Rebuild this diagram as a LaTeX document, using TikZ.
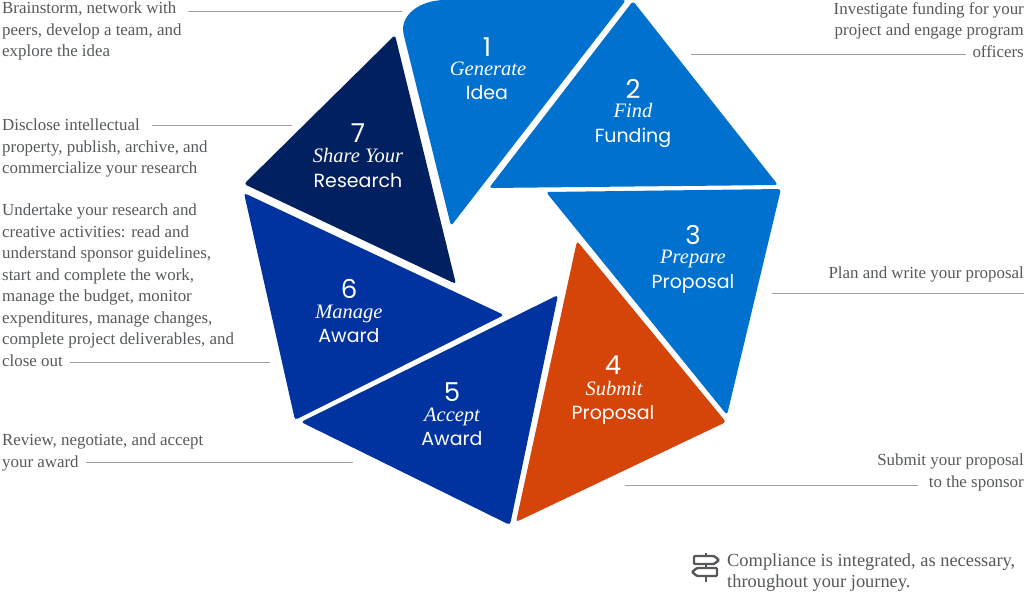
\documentclass[tikz,border=0pt]{standalone}
\usepackage{fontspec}
\setmainfont{Liberation Serif}
\setsansfont{Poppins}
\definecolor{stepblue}{HTML}{0071CE}
\definecolor{steporange}{HTML}{D54509}
\definecolor{stepnavy}{HTML}{0033A0}
\definecolor{stepdark}{HTML}{002060}
\definecolor{notegray}{HTML}{55595B}
\tikzset{
    petal/.style={rounded corners=3pt},
    stepnum/.style={white,inner sep=0pt,anchor=base,font=\sffamily\fontsize{26}{26}\selectfont},
    stepverb/.style={white,inner sep=0pt,anchor=base,font=\itshape\fontsize{20.5}{20.5}\selectfont},
    stepnoun/.style={white,inner sep=0pt,anchor=base,font=\sffamily\fontsize{19}{19}\selectfont},
    noteleft/.style={notegray,inner sep=0pt,anchor=north west,align=left,font=\fontsize{16.9}{21.5}\selectfont},
    noteright/.style={notegray,inner sep=0pt,anchor=north east,align=right,font=\fontsize{16.9}{21.5}\selectfont},
    leader/.style={draw=gray!75,line width=1pt},
    signpost/.style={notegray,line width=2.4pt,rounded corners=1pt},
}
\begin{document}
\begin{tikzpicture}[x=1pt,y=-1pt]
        \useasboundingbox (0,0) rectangle (1024,592);

        % Generate
        \fill [stepblue,petal] (451,226) -- (404,36) [sharp corners] .. controls (400,15) and (420,0) .. (445,0) [rounded corners=3pt] -- (626,0) -- cycle;
        \node[stepnum] (num1) at (487,56) {1};
        \node[stepverb] (verb1) at (488,75) {Generate};
        \node[stepnoun] (noun1) at (487,99) {Idea};

        % Find
        \fill [stepblue,petal] (633,1) -- (778,185) -- (489,188) -- cycle;
        \node[stepnum] (num2) at (633,98) {2};
        \node[stepverb] (verb2) at (633,117) {Find};
        \node[stepnoun] (noun2) at (633,142) {Funding};

        % Prepare
        \fill [stepblue,petal] (546,192) -- (781,189) -- (727,415) -- cycle;
        \node[stepnum] (num3) at (693,244) {3};
        \node[stepverb] (verb3) at (693,263) {Prepare};
        \node[stepnoun] (noun3) at (693,288) {Proposal};

        % Submit
        \fill [steporange,petal] (577,241) -- (726,422) -- (516,522) -- cycle;
        \node[stepnum] (num4) at (613,374) {4};
        \node[stepverb] (verb4) at (614,395) {Submit};
        \node[stepnoun] (noun4) at (613,419) {Proposal};

        % Accept
        \fill [stepnavy,petal] (558,295) -- (510,525) -- (301,422) -- cycle;
        \node[stepnum] (num5) at (452,401) {5};
        \node[stepverb] (verb5) at (452,421) {Accept};
        \node[stepnoun] (noun5) at (452,445) {Award};

        % Manage
        \fill [stepnavy,petal] (244,193) -- (504,315) -- (295,420) -- cycle;
        \node[stepnum] (num6) at (349,298) {6};
        \node[stepverb] (verb6) at (349,318) {Manage};
        \node[stepnoun] (noun6) at (349,342) {Award};

        % Share
        \fill [stepdark,petal] (395,35) -- (456,284) -- (244,184) -- cycle;
        \node[stepnum] (num7) at (358,142) {7};
        \node[stepverb] (verb7) at (358,162) {Share Your};
        \node[stepnoun] (noun7) at (358,187) {Research};

        % Left notes
        \node[noteleft] (noteidea) at (2,2) {Brainstorm, network with\\peers, develop a team, and\\explore the idea};
        \node[noteleft] (noteshare) at (2,119) {Disclose intellectual\\property, publish, archive, and\\commercialize your research};
        \node[noteleft] (notemanage) at (2,204) {Undertake your research and\\creative activities: read and\\understand sponsor guidelines,\\start and complete the work,\\manage the budget, monitor\\expenditures, manage changes,\\complete project deliverables, and\\close out};
        \node[noteleft] (noteaccept) at (2,434) {Review, negotiate, and accept\\your award};

        % Right notes
        \node[noteright] (notefund) at (1024,2) {Investigate funding for your\\project and engage program\\officers};
        \node[noteright] (noteprep) at (1024,267) {Plan and write your proposal};
        \node[noteright] (notesubmit) at (1024,454) {Submit your proposal\\to the sponsor};
        \node[noteleft,font=\fontsize{18.4}{21}\selectfont] (notecomply) at (727,554) {Compliance is integrated, as necessary,\\throughout your journey.};

        % Leader lines
        \coordinate (ideaA) at (188,11);
        \coordinate (ideaB) at (402,11);
        \coordinate (shareA) at (152,125);
        \coordinate (shareB) at (292,125);
        \coordinate (manageA) at (70,362);
        \coordinate (manageB) at (270,362);
        \coordinate (acceptA) at (86,462);
        \coordinate (acceptB) at (353,462);
        \coordinate (fundA) at (691,54);
        \coordinate (fundB) at (966,54);
        \coordinate (prepA) at (772,293);
        \coordinate (prepB) at (1024,293);
        \coordinate (submitA) at (625,485);
        \coordinate (submitB) at (918,485);
        \draw [leader] (ideaA) -- (ideaB);
        \draw [leader] (shareA) -- (shareB);
        \draw [leader] (manageA) -- (manageB);
        \draw [leader] (acceptA) -- (acceptB);
        \draw [leader] (fundA) -- (fundB);
        \draw [leader] (prepA) -- (prepB);
        \draw [leader] (submitA) -- (submitB);

        % Signpost
        \draw [signpost] (694,556) -- (714,556) -- (719,560) -- (714,564) -- (694,564) -- cycle;
        \draw [signpost] (697,568) -- (717,568) -- (717,576) -- (697,576) -- (692,572) -- cycle;
        \draw [signpost] (706,553) -- (706,556);
        \draw [signpost] (706,564) -- (706,568);
        \draw [signpost] (706,576) -- (706,582);
    \end{tikzpicture}
\end{document}
